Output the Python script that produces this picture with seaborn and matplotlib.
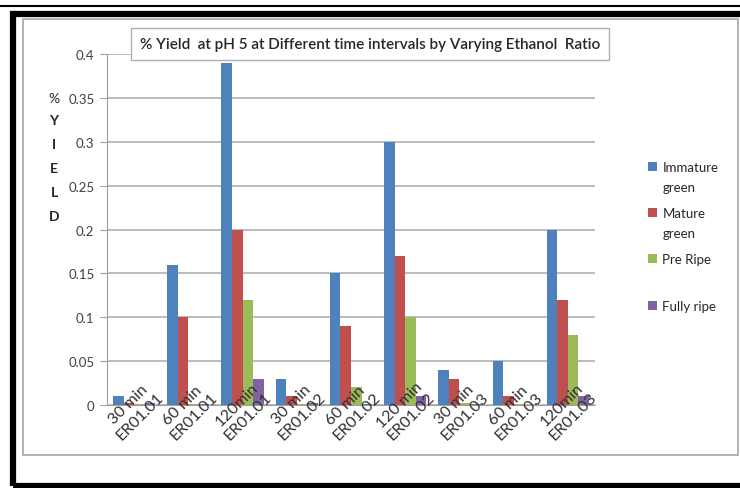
import matplotlib
matplotlib.use("Agg")
import matplotlib.pyplot as plt
from matplotlib.patches import Rectangle
import seaborn as sns
import pandas as pd

# categories on the x axis
categories = ["30 min\nER01.01", "60 min\nER01.01", "120min\nER01.01",
              "30 min\nER01.02", "60 min\nER01.02", "120 min\nER01.02",
              "30 min\nER01.03", "60 min\nER01.03", "120min\nER01.03"]

# % yield per ripening stage
immature_green = [0.010, 0.160, 0.390, 0.030, 0.150, 0.300, 0.040, 0.050, 0.200]
mature_green   = [0.002, 0.100, 0.200, 0.010, 0.090, 0.170, 0.030, 0.010, 0.120]
pre_ripe       = [0.001, 0.001, 0.120, 0.001, 0.020, 0.100, 0.002, 0.001, 0.080]
fully_ripe     = [0.002, 0.001, 0.030, 0.002, 0.001, 0.010, 0.001, 0.000, 0.010]

series_names = ["Immature", "Mature", "Pre Ripe", "Fully ripe"]
second_lines = ["green", "green", "", ""]
colors = ["#4F81BD", "#C0504D", "#9BBB59", "#8064A2"]
yticks = [0, 0.05, 0.1, 0.15, 0.2, 0.25, 0.3, 0.35, 0.4]
ytick_labels = ["0", "0.05", "0.1", "0.15", "0.2", "0.25", "0.3", "0.35", "0.4"]

rows = []
for name, vals in zip(series_names, [immature_green, mature_green, pre_ripe, fully_ripe]):
    for c, v in zip(categories, vals):
        rows.append({"cat": c, "series": name, "value": v})
df = pd.DataFrame(rows)

sns.set_style("white")
plt.rcParams['font.family'] = ['Lato', 'DejaVu Sans']

W, H = 740, 489
fig = plt.figure(figsize=(W / 100, H / 100), dpi=100)

def fx(x):
    return x / W

def fy(y):
    return 1 - y / H

# frame around the whole picture
fig.patches.append(Rectangle((fx(23), fy(456)), fx(738) - fx(23), fy(20) - fy(456),
                             transform=fig.transFigure, fill=False, ec="#a6a6a6", lw=1.2))
fig.patches.append(Rectangle((fx(12.5), fy(486.5)), fx(745) - fx(12.5), fy(14.5) - fy(486.5),
                             transform=fig.transFigure, fill=False, ec="black", lw=4.5))
fig.lines.append(plt.Line2D([fx(0), fx(740)], [fy(7), fy(7)], transform=fig.transFigure,
                            color="black", lw=1.5))

ax = fig.add_axes([fx(107), fy(406), fx(595) - fx(107), fy(55) - fy(406)])
sns.barplot(data=df, x="cat", y="value", hue="series", palette=colors,
            width=0.78, gap=0, edgecolor="none", saturation=1, ax=ax, legend=True)

ax.set_ylim(0, 0.4)
ax.set_xlim(-0.5, 8.5)
ax.set_yticks(yticks)
ax.set_yticklabels(ytick_labels, fontsize=9.5, color="#404040")
ax.yaxis.grid(True, color="#b0b0b0", lw=1.2)
ax.set_axisbelow(True)
ax.xaxis.set_zorder(5)
for s in ["top", "right"]:
    ax.spines[s].set_visible(False)
ax.spines["left"].set_color("#a0a0a0")
ax.spines["bottom"].set_color("#a0a0a0")
ax.tick_params(axis="y", length=5, color="#a0a0a0", left=True, pad=4)
ax.tick_params(axis="x", length=0, pad=-4)
ax.set_xticks(range(len(categories)))
ax.set_xticklabels(categories, rotation=45, ha="center", va="center",
                   rotation_mode="anchor", fontsize=11.5, color="#303030",
                   linespacing=1.15)
for lab in ax.get_xticklabels():
    lab.set_y(-0.03)
ax.set_xlabel("")
ax.set_ylabel("")

# legend on the right
handles, labels = ax.get_legend_handles_labels()
ax.get_legend().remove()
leg = fig.legend(handles, labels, loc="upper left", bbox_to_anchor=(fx(636), fy(150)),
                 frameon=False, handlelength=0.7, handleheight=0.7,
                 handletextpad=0.4, labelspacing=2.6, prop={"family": "Lato", "size": 9.5})
fig.canvas.draw()
for t, extra in zip(leg.get_texts(), second_lines):
    if extra:
        bb = t.get_window_extent()
        fig.text(bb.x0 / W, (bb.y0 - 20) / H, extra, ha="left", va="bottom",
                 fontsize=9.5, color=t.get_color())

# title in a box
fig.text(fx(370), fy(45), "% Yield  at pH 5 at Different time intervals by Varying Ethanol  Ratio",
         ha="center", va="center", fontsize=11, fontweight="semibold", color="#262626",
         bbox=dict(boxstyle="square,pad=0.6", fc="white", ec="#b0b0b0", lw=1))

# vertical y-axis label
fig.text(fx(54), fy(99), "%", ha="center", va="center", fontsize=10, color="#262626")
for i, ch in enumerate("YIELD"):
    fig.text(fx(54), fy(121 + i * 24), ch, ha="center", va="center", fontsize=10,
             fontweight="bold", color="#262626")

fig.savefig("out.png", dpi=100)
